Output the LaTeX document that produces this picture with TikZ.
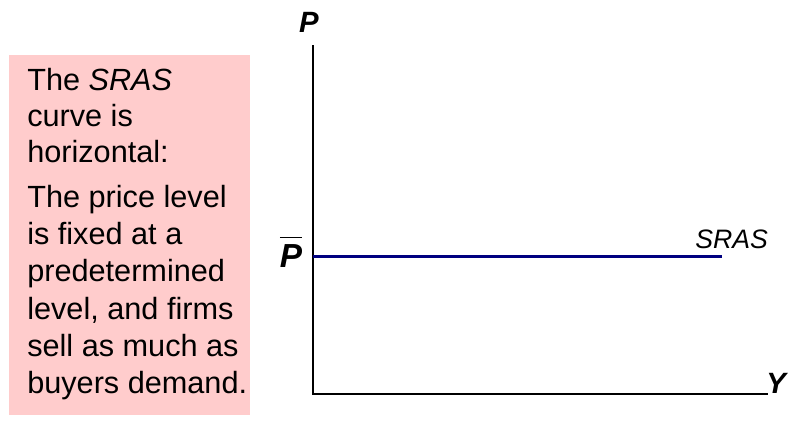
\documentclass[tikz,border=0pt]{standalone}
\usepackage{fontspec}
\setmainfont{Liberation Sans}
\definecolor{boxpink}{RGB}{255,204,204}
\definecolor{srasblue}{RGB}{0,0,128}
\begin{document}
\begin{tikzpicture}[x=0.75pt,y=-0.75pt,
  boxtext/.style={anchor=base west,inner sep=0pt,font=\fontsize{23}{27}\selectfont},
  axislabel/.style={inner sep=0pt,font=\fontsize{22}{26}\selectfont\bfseries\itshape},
  axisline/.style={line width=1.5pt,black},
  srasline/.style={line width=2.25pt,srasblue}]
\useasboundingbox (0,0) rectangle (789,425);
\fill[boxpink] (9,55) rectangle (250,415);
\node[boxtext] (l1) at (27,90) {The \textit{SRAS}};
\node[boxtext] (l2) at (27,126) {curve is};
\node[boxtext] (l3) at (27,162) {horizontal:};
\node[boxtext] (l4) at (27,207) {The price level};
\node[boxtext] (l5) at (27,244) {is fixed at a};
\node[boxtext] (l6) at (27,281) {predetermined};
\node[boxtext] (l7) at (27,319) {level, and firms};
\node[boxtext] (l8) at (27,356) {sell as much as};
\node[boxtext] (l9) at (27,393) {buyers demand.};
\coordinate (O) at (313,394);
\coordinate (Ptop) at (313,45);
\coordinate (Yend) at (768,394);
\coordinate (S0) at (313,256);
\coordinate (S1) at (722,256);
\draw[axisline] (Ptop) -- (O) -- (Yend);
\draw[srasline] (S0) -- (S1);
\node[axislabel,anchor=base] (P) at (309,32) {P};
\node[axislabel,anchor=base,font=\fontsize{25}{29}\selectfont\bfseries\itshape] (Pbar) at (291,267) {$\overline{\mbox{\rule{0pt}{21pt}\bfseries\itshape P}}$};
\node[anchor=base west,inner sep=0pt,font=\fontsize{20}{24}\selectfont\itshape] (SRAS) at (695,248) {SRAS};
\node[axislabel,anchor=base west] (Y) at (766,393) {Y};
\end{tikzpicture}
\end{document}
